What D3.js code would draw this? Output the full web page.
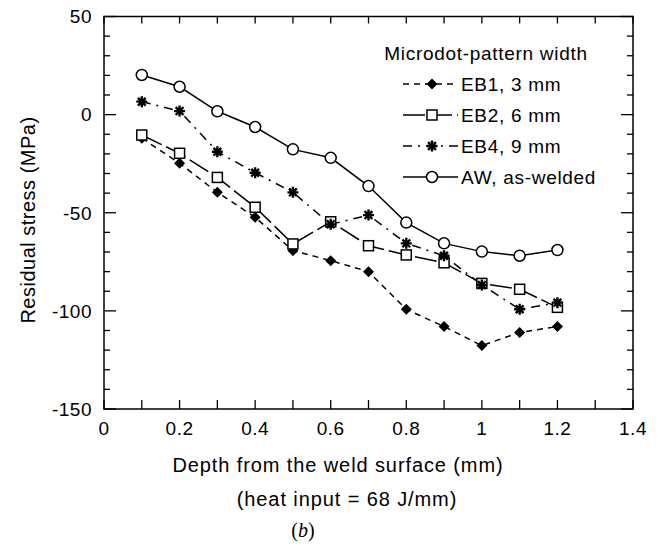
<!DOCTYPE html>
<html><head><meta charset="utf-8">
<script src="https://cdn.jsdelivr.net/npm/d3@7"></script>
<style>
body{margin:0;background:#fff;}
svg{display:block;font-family:"Liberation Sans",Arial,sans-serif;}
</style></head>
<body>
<svg id="chart" width="664" height="558"></svg>
<script>
const depth = [0.1,0.2,0.3,0.4,0.5,0.6,0.7,0.8,0.9,1.0,1.1,1.2];
const eb1 = [-12,-24.8,-39.6,-52.3,-69.3,-74.4,-80,-99.2,-108,-117.7,-111,-108];
const eb2 = [-10.4,-19.7,-32,-47.2,-65.9,-54.6,-66.8,-71.5,-75.5,-86,-89,-98.2];
const eb4 = [6.6,1.8,-18.9,-29.6,-39.6,-55.9,-51.2,-65.6,-71.9,-86.8,-99.2,-95.8];
const aw  = [20.2,14.2,1.7,-6.3,-17.7,-22,-36.4,-55,-65.6,-69.8,-71.9,-69];
const seriesNames = ["EB1, 3 mm","EB2, 6 mm","EB4, 9 mm","AW, as-welded"];
const xTickLabels = [0,0.2,0.4,0.6,0.8,1,1.2,1.4];
const yTickLabels = [50,0,-50,-100,-150];
const legendTitle = "Microdot-pattern width";
const yTitle = "Residual stress (MPa)";
const xTitle = "Depth from the weld surface (mm)";
const subTitle = "(heat input = 68 J/mm)";
const panelLabel = "b";

const L=104, R=633, T=16.5, B=409;
const svg = d3.select("#chart");
const x = d3.scaleLinear().domain([0,1.4]).range([L,R]);
const y = d3.scaleLinear().domain([-150,50]).range([B,T]);

// frame
svg.append("rect").attr("x",L).attr("y",T).attr("width",R-L).attr("height",B-T)
  .attr("fill","none").attr("stroke","#000").attr("stroke-width",1.5);

const minorY = d3.range(-150,51,10);
const minorX = d3.range(0,1.41,0.1).map(v=>+v.toFixed(2));
const tg = svg.append("g").attr("stroke","#000").attr("stroke-width",1.3);
minorY.forEach(v=>{
  const major = v%50===0;
  const len = major?12:6;
  tg.append("line").attr("x1",L).attr("x2",L+len).attr("y1",y(v)).attr("y2",y(v));
  tg.append("line").attr("x1",R).attr("x2",R-len).attr("y1",y(v)).attr("y2",y(v));
});
minorX.forEach(v=>{
  tg.append("line").attr("x1",x(v)).attr("x2",x(v)).attr("y1",B).attr("y2",B-9);
  tg.append("line").attr("x1",x(v)).attr("x2",x(v)).attr("y1",T).attr("y2",T+7);
});

// tick labels
const fs = 19, ls = 0.5;
yTickLabels.forEach(v=>{
  svg.append("text").attr("x",L-12).attr("y",y(v)).attr("dy","0.36em")
    .attr("text-anchor","end").attr("font-size",fs).attr("letter-spacing",ls).text(v);
});
xTickLabels.forEach(v=>{
  svg.append("text").attr("x",x(v)).attr("y",B+12).attr("dy","0.72em")
    .attr("text-anchor","middle").attr("font-size",fs).attr("letter-spacing",ls).text(v);
});

// axis titles
svg.append("text").attr("transform","translate(35,220) rotate(-90)")
  .attr("text-anchor","middle").attr("font-size",20).attr("letter-spacing",0.5).text(yTitle);
svg.append("text").attr("x",338).attr("y",472).attr("text-anchor","middle")
  .attr("font-size",20).attr("letter-spacing",0.9).text(xTitle);
svg.append("text").attr("x",347).attr("y",506).attr("text-anchor","middle")
  .attr("font-size",20).attr("letter-spacing",0.9).text(subTitle);
const pl = svg.append("text").attr("x",303).attr("y",537).attr("text-anchor","middle")
  .attr("font-size",20).attr("font-family","'Liberation Serif','DejaVu Serif',serif");
pl.append("tspan").text("(");
pl.append("tspan").attr("font-style","italic").text(panelLabel);
pl.append("tspan").text(")");

// markers
function asteriskPath(r){
  let p="";
  for(let k=0;k<4;k++){
    const a=k*Math.PI/4, dx=r*Math.cos(a), dy=r*Math.sin(a);
    p+=`M${-dx},${-dy}L${dx},${dy}`;
  }
  return p;
}
const markers = {
  diamond: g=>g.append("path").attr("d","M0,-5.5L5.5,0L0,5.5L-5.5,0Z").attr("fill","#000"),
  square: g=>g.append("rect").attr("x",-5).attr("y",-5).attr("width",10).attr("height",10)
            .attr("fill","#fff").attr("stroke","#000").attr("stroke-width",1.5),
  aster: g=>g.append("path").attr("d",asteriskPath(5.5)).attr("stroke","#000").attr("stroke-width",2.4).attr("fill","none"),
  circle: g=>g.append("circle").attr("r",5.5).attr("fill","#fff").attr("stroke","#000").attr("stroke-width",1.5)
};

const series = [
  {name:seriesNames[0], vals:eb1, dash:"6,5", marker:"diamond"},
  {name:seriesNames[1], vals:eb2, dash:"22,5", marker:"square"},
  {name:seriesNames[2], vals:eb4, dash:"9,6,2,6", marker:"aster"},
  {name:seriesNames[3], vals:aw, dash:null, marker:"circle"}
];
const line = d3.line().x(d=>x(d[0])).y(d=>y(d[1]));
series.forEach(s=>{
  const pts = depth.map((d,i)=>[d,s.vals[i]]);
  svg.append("path").attr("d",line(pts)).attr("fill","none").attr("stroke","#000")
    .attr("stroke-width",1.5).attr("stroke-dasharray",s.dash);
});
series.forEach(s=>{
  depth.forEach((d,i)=>{
    const g = svg.append("g").attr("transform",`translate(${x(d)},${y(s.vals[i])})`);
    markers[s.marker](g);
  });
});

// legend
svg.append("text").attr("x",486).attr("y",53).attr("dy","0.36em").attr("text-anchor","middle")
  .attr("font-size",19).attr("letter-spacing",0.7).text(legendTitle);
const rowY = [84,115,146,177];
series.forEach((s,i)=>{
  const yy=rowY[i];
  svg.append("line").attr("x1",403).attr("x2",458).attr("y1",yy).attr("y2",yy)
    .attr("stroke","#000").attr("stroke-width",1.5).attr("stroke-dasharray",s.dash);
  const g = svg.append("g").attr("transform",`translate(432,${yy})`);
  markers[s.marker](g);
  svg.append("text").attr("x",461).attr("y",yy).attr("dy","0.36em").attr("font-size",19)
    .attr("letter-spacing",0.7).text(s.name);
});
</script>
</body></html>
